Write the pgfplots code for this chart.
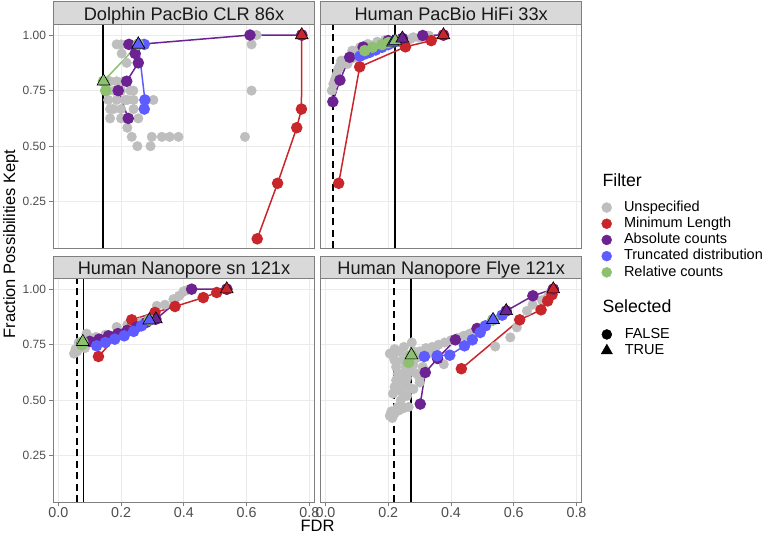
\documentclass[border=0pt]{standalone}
\usepackage{fontspec}
\setmainfont{Liberation Sans}
\usepackage{pgfplots}
\pgfplotsset{compat=1.18}
\definecolor{cgray}{HTML}{BEBEBE}
\definecolor{cred}{HTML}{C8262B}
\definecolor{cpurple}{HTML}{6C2391}
\definecolor{cblue}{HTML}{5E5CFF}
\definecolor{cgreen}{HTML}{8DC170}
\definecolor{stripfill}{HTML}{D9D9D9}
\definecolor{framec}{HTML}{7F7F7F}
\definecolor{tickc}{HTML}{4D4D4D}
\pgfplotsset{
  panel/.style={scale only axis, width=261pt, height=224pt,
    xmin=-0.0153, xmax=0.8166, ymin=0.04, ymax=1.048,
    xtick={0,0.2,0.4,0.6,0.8}, ytick={0.25,0.5,0.75,1},
    xticklabels={0.0,0.2,0.4,0.6,0.8}, yticklabels={0.25,0.50,0.75,1.00},
    grid=major, major grid style={color=black!8, line width=0.7pt},
    axis line style={color=framec, line width=0.7pt},
    tick align=outside, tick pos=left, major tick length=4pt,
    tick style={color=framec, line width=0.7pt},
    xticklabel style={font=\fontsize{14.3}{14.3}\selectfont, text=tickc, yshift=2.5pt},
    yticklabel style={font=\fontsize{12}{12}\selectfont, text=tickc},
    anchor=south west, clip=true},
  top/.style={xticklabels={}, xtick style={draw=none}},
  right/.style={yticklabels={}, ytick style={draw=none}},
  gpts/.style={only marks, mark=*, mark size=4.8pt, mark options={fill=cgray, draw=cgray}, forget plot},
  ser/.style={color=#1, line width=1.5pt, mark=*, mark size=5pt, mark options={fill=#1, draw=#1}, forget plot},
  tri/.style={only marks, mark=triangle*, mark size=7.4pt, mark options={fill=#1, draw=black, line width=0.6pt}, forget plot},
  vsolid/.style={black, line width=1.7pt, forget plot},
  vdash/.style={black, line width=1.9pt, dash pattern=on 7pt off 4.5pt, forget plot}
}
\newcommand{\strip}[2]{%
  \draw[fill=stripfill, draw=framec, line width=0.7pt] (#1.north west) rectangle ([yshift=22.6pt]#1.north east);
  \node[anchor=base, font=\fontsize{18.2}{18.2}\selectfont, text=black!90] at ([yshift=4.3pt]#1.north) {#2};}
\begin{document}
\begin{tikzpicture}
\path[use as bounding box] (0,0) rectangle (763pt,537pt);
% ---------------- Dolphin
\begin{axis}[panel, top, name=tl, at={(53.5pt,288.6pt)}]
\addplot[vsolid] coordinates {(0.143,0.04) (0.143,1.048)};
\addplot[gpts] coordinates {(0.186,0.958)(0.202,0.917)(0.218,0.875)(0.165,0.792)(0.186,0.792)(0.21,0.792)(0.159,0.75)(0.178,0.75)(0.2,0.75)(0.23,0.75)(0.239,0.75)(0.159,0.708)(0.186,0.708)(0.212,0.708)(0.22,0.708)(0.24,0.708)(0.303,0.708)(0.165,0.667)(0.175,0.667)(0.2,0.667)(0.24,0.667)(0.165,0.625)(0.2,0.625)(0.255,0.625)(0.22,0.583)(0.234,0.542)(0.298,0.542)(0.33,0.542)(0.355,0.542)(0.383,0.542)(0.252,0.5)(0.294,0.5)(0.595,0.542)(0.616,0.75)(0.616,0.958)(0.632,1.0)(0.2,0.958)};
\addplot[ser=cred] coordinates {(0.634,0.083)(0.699,0.333)(0.76,0.583)(0.775,0.667)(0.776,1.0)};
\addplot[ser=cpurple] coordinates {(0.223,0.625)(0.191,0.75)(0.218,0.792)(0.255,0.875)(0.245,0.917)(0.225,0.958)(0.255,0.958)(0.611,1.0)(0.776,1.0)};
\addplot[ser=cblue] coordinates {(0.274,0.667)(0.276,0.708)(0.255,0.958)(0.274,0.958)};
\addplot[ser=cgreen] coordinates {(0.151,0.75)(0.144,0.792)(0.255,0.958)};
\addplot[tri=cred] coordinates {(0.776,1.0)};
\addplot[tri=cpurple] coordinates {(0.255,0.958)};
\addplot[tri=cblue] coordinates {(0.255,0.958)};
\addplot[tri=cgreen] coordinates {(0.144,0.792)};
\end{axis}
\strip{tl}{Dolphin PacBio CLR 86x}
% ---------------- HiFi
\begin{axis}[panel, top, right, name=tr, at={(320.7pt,288.6pt)}]
\addplot[vdash] coordinates {(0.023,0.04) (0.023,1.048)};
\addplot[vsolid] coordinates {(0.222,0.04) (0.222,1.048)};
\addplot[gpts] coordinates {(0.02,0.75)(0.025,0.78)(0.035,0.82)(0.045,0.86)(0.05,0.885)(0.06,0.885)(0.075,0.9)(0.09,0.912)(0.1,0.93)(0.12,0.94)(0.14,0.95)(0.16,0.958)(0.18,0.965)(0.2,0.972)(0.22,0.978)(0.25,0.985)(0.28,0.99)(0.31,0.995)(0.33,0.997)(0.07,0.87)(0.1,0.9)(0.13,0.915)(0.16,0.93)(0.03,0.8)(0.04,0.845)(0.055,0.87)(0.085,0.93)(0.11,0.945)(0.135,0.96)(0.165,0.97)(0.19,0.978)(0.085,0.895)(0.115,0.92)(0.145,0.935)(0.175,0.948)(0.205,0.96)(0.235,0.975)(0.27,0.982)(0.3,0.988)};
\addplot[ser=cred] coordinates {(0.042,0.333)(0.109,0.857)(0.255,0.947)(0.337,0.975)(0.376,1.0)};
\addplot[ser=cpurple] coordinates {(0.0234,0.70)(0.046,0.797)(0.077,0.9)(0.12,0.946)(0.2,0.975)(0.245,0.985)(0.31,0.998)(0.376,1.0)};
\addplot[ser=cblue] coordinates {(0.11,0.905)(0.125,0.915)(0.14,0.922)(0.16,0.933)(0.18,0.945)(0.2,0.957)(0.215,0.967)};
\addplot[ser=cgreen] coordinates {(0.125,0.93)(0.15,0.945)(0.18,0.957)(0.2,0.966)(0.222,0.975)};
\addplot[tri=cred] coordinates {(0.376,1.0)};
\addplot[tri=cblue] coordinates {(0.215,0.967)};
\addplot[tri=cgreen] coordinates {(0.222,0.975)};
\addplot[tri=cpurple] coordinates {(0.245,0.985)};
\end{axis}
\strip{tr}{Human PacBio HiFi 33x}
% ---------------- Nanopore sn
\begin{axis}[panel, name=bl, at={(53.5pt,34.5pt)}]
\addplot[vdash] coordinates {(0.0586,0.04) (0.0586,1.048)};
\addplot[vsolid] coordinates {(0.080,0.04) (0.080,1.048)};
\addplot[gpts] coordinates {(0.05,0.71)(0.055,0.73)(0.06,0.72)(0.07,0.74)(0.085,0.735)(0.065,0.76)(0.09,0.8)(0.1,0.78)(0.12,0.785)(0.15,0.795)(0.186,0.83)(0.22,0.84)(0.26,0.85)(0.3,0.88)(0.314,0.925)(0.34,0.93)(0.367,0.955)(0.385,0.97)(0.399,0.99)(0.41,0.995)};
\addplot[ser=cred] coordinates {(0.128,0.697)(0.234,0.862)(0.308,0.895)(0.372,0.922)(0.462,0.962)(0.505,0.985)(0.537,1.0)};
\addplot[ser=cpurple] coordinates {(0.075,0.755)(0.1,0.765)(0.13,0.775)(0.16,0.79)(0.19,0.8)(0.22,0.815)(0.25,0.83)(0.28,0.85)(0.311,0.865)(0.425,1.0)(0.537,1.0)};
\addplot[ser=cblue] coordinates {(0.122,0.745)(0.15,0.76)(0.18,0.775)(0.21,0.79)(0.24,0.81)(0.265,0.835)(0.29,0.86)};
\addplot[ser=cgreen] coordinates {(0.075,0.75)(0.078,0.763)(0.29,0.862)};
\addplot[tri=cred] coordinates {(0.537,1.0)};
\addplot[tri=cpurple] coordinates {(0.311,0.865)};
\addplot[tri=cblue] coordinates {(0.29,0.86)};
\addplot[tri=cgreen] coordinates {(0.078,0.763)};
\end{axis}
\strip{bl}{Human Nanopore sn 121x}
% ---------------- Nanopore Flye
\begin{axis}[panel, right, name=br, at={(320.7pt,34.5pt)}]
\addplot[vdash] coordinates {(0.2197,0.04) (0.2197,1.048)};
\addplot[vsolid] coordinates {(0.273,0.04) (0.273,1.048)};
\addplot[gpts] coordinates {(0.213,0.42)(0.22,0.44)(0.235,0.455)(0.25,0.465)(0.265,0.47)(0.215,0.53)(0.22,0.56)(0.225,0.59)(0.23,0.62)(0.225,0.65)(0.22,0.68)(0.215,0.70)(0.235,0.72)(0.25,0.74)(0.24,0.54)(0.25,0.57)(0.26,0.6)(0.27,0.63)(0.28,0.66)(0.29,0.69)(0.255,0.65)(0.245,0.68)(0.3,0.72)(0.32,0.735)(0.34,0.74)(0.36,0.75)(0.38,0.76)(0.377,0.662)(0.4,0.77)(0.42,0.78)(0.44,0.79)(0.46,0.8)(0.48,0.815)(0.5,0.83)(0.541,0.742)(0.589,0.783)(0.61,0.828)(0.642,0.902)(0.66,0.93)(0.69,0.95)(0.71,0.97)(0.24,0.5)(0.26,0.52)(0.28,0.55)(0.3,0.58)(0.29,0.62)(0.31,0.65)(0.3,0.6)(0.24,0.6)(0.245,0.62)(0.265,0.56)(0.235,0.58)(0.26,0.7)(0.28,0.72)(0.205,0.71)(0.22,0.73)(0.31,0.7)(0.33,0.71)(0.35,0.72)(0.275,0.76)(0.23,0.47)(0.21,0.45)(0.205,0.43)};
\addplot[ser=cred] coordinates {(0.433,0.642)(0.619,0.862)(0.687,0.907)(0.708,0.947)(0.722,0.975)(0.726,1.0)};
\addplot[ser=cpurple] coordinates {(0.302,0.483)(0.318,0.625)(0.357,0.688)(0.414,0.772)(0.483,0.823)(0.576,0.902)(0.661,0.97)(0.726,1.0)};
\addplot[ser=cblue] coordinates {(0.315,0.697)(0.356,0.70)(0.396,0.703)(0.443,0.745)(0.468,0.772)(0.493,0.805)(0.51,0.835)(0.534,0.862)(0.563,0.883)};
\addplot[ser=cgreen] coordinates {(0.265,0.67)(0.274,0.703)(0.534,0.862)};
\addplot[tri=cpurple] coordinates {(0.576,0.902)};
\addplot[tri=cblue] coordinates {(0.534,0.862)};
\addplot[tri=cgreen] coordinates {(0.274,0.703)};
\addplot[tri=cred] coordinates {(0.726,1.0)};
\end{axis}
\strip{br}{Human Nanopore Flye 121x}
% ---------------- labels
\node[rotate=90, anchor=base, font=\fontsize{16.5}{16.5}\selectfont] at (15pt,293pt) {Fraction Possibilities Kept};
\node[anchor=base, font=\fontsize{16.5}{16.5}\selectfont] at (317.6pt,5.5pt) {FDR};
% ---------------- legends
\node[anchor=base west, font=\fontsize{17.7}{17.7}\selectfont] at (599pt,350.3pt) {Filter};
\node[anchor=base west, font=\fontsize{17.7}{17.7}\selectfont] at (599pt,224.3pt) {Selected};
\begin{axis}[hide axis, scale only axis, width=10pt, height=10pt, at={(601.7pt,336.2pt)}, anchor=north west,
  xmin=0,xmax=1,ymin=0,ymax=1,
  legend style={at={(0,1)}, anchor=north west, draw=none, fill=none, inner sep=0pt, outer sep=0pt,
    font=\fontsize{14.5}{14.5}\selectfont, row sep=2.7pt, column sep=12.3pt,
    nodes={inner sep=0pt, text height=10.5pt, text depth=3pt}},
  legend cell align=left]
\addlegendimage{only marks, mark=*, mark size=5pt, mark options={fill=cgray, draw=cgray}}
\addlegendentry{Unspecified}
\addlegendimage{only marks, mark=*, mark size=5pt, mark options={fill=cred, draw=cred}}
\addlegendentry{Minimum Length}
\addlegendimage{only marks, mark=*, mark size=5pt, mark options={fill=cpurple, draw=cpurple}}
\addlegendentry{Absolute counts}
\addlegendimage{only marks, mark=*, mark size=5pt, mark options={fill=cblue, draw=cblue}}
\addlegendentry{Truncated distribution}
\addlegendimage{only marks, mark=*, mark size=5pt, mark options={fill=cgreen, draw=cgreen}}
\addlegendentry{Relative counts}
\end{axis}
\begin{axis}[hide axis, scale only axis, width=10pt, height=10pt, at={(601.2pt,209.3pt)}, anchor=north west,
  xmin=0,xmax=1,ymin=0,ymax=1,
  legend style={at={(0,1)}, anchor=north west, draw=none, fill=none, inner sep=0pt, outer sep=0pt,
    font=\fontsize{14.5}{14.5}\selectfont, row sep=2.7pt, column sep=12.3pt,
    nodes={inner sep=0pt, text height=10.5pt, text depth=3pt}},
  legend cell align=left]
\addlegendimage{only marks, mark=*, mark size=5pt, mark options={fill=black, draw=black}}
\addlegendentry{FALSE}
\addlegendimage{only marks, mark=triangle*, mark size=6.5pt, mark options={fill=black, draw=black}}
\addlegendentry{TRUE}
\end{axis}
\end{tikzpicture}
\end{document}
